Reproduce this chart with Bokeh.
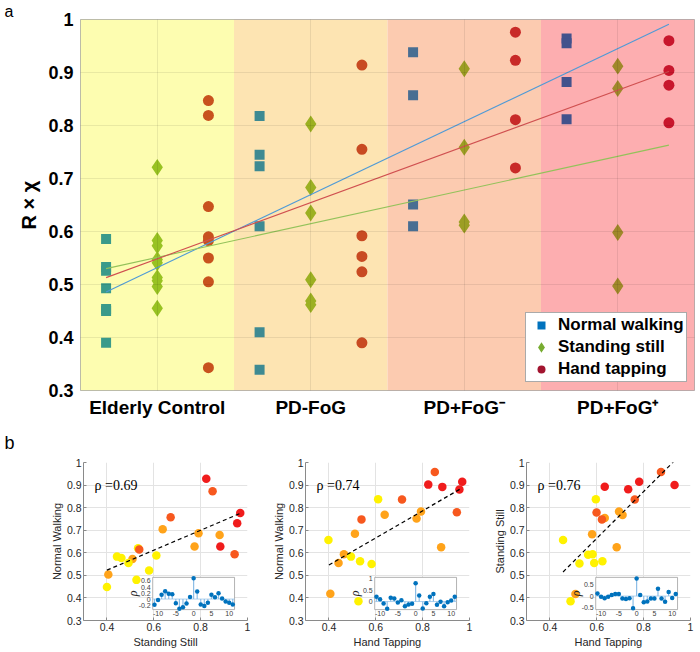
import math
from bokeh.plotting import figure
from bokeh.models import Range1d, FixedTicker, Legend, LegendItem, Title
from bokeh.layouts import column, row
from bokeh.embed import file_html
from bokeh.resources import INLINE
from bokeh.core.properties import value

# ---------------- panel a data ----------------
group_names = ["Elderly Control", "PD-FoG", "PD+FoG\u207b", "PD+FoG\u207a"]
task_names = ["Normal walking", "Standing still", "Hand tapping"]

normal_walking = [
    [0.586, 0.533, 0.526, 0.493, 0.454, 0.450, 0.390],
    [0.818, 0.745, 0.723, 0.610, 0.410, 0.339],
    [0.938, 0.857, 0.651, 0.610],
    [0.964, 0.955, 0.882, 0.812],
]
standing_still = [
    [0.721, 0.583, 0.573, 0.547, 0.541, 0.513, 0.507, 0.496, 0.455],
    [0.803, 0.683, 0.635, 0.509, 0.469, 0.462],
    [0.907, 0.759, 0.618, 0.612],
    [0.912, 0.870, 0.598, 0.497],
]
hand_tapping = [
    [0.847, 0.819, 0.647, 0.590, 0.583, 0.550, 0.505, 0.343],
    [0.914, 0.755, 0.592, 0.553, 0.524, 0.390],
    [0.976, 0.923, 0.811, 0.720],
    [0.960, 0.904, 0.876, 0.805],
]
fit_x = [1, 12]
fit_normal_walking = [0.486, 0.991]
fit_standing_still = [0.530, 0.763]
fit_hand_tapping = [0.513, 0.902]
a_y_ticks = [0.3, 0.4, 0.5, 0.6, 0.7, 0.8, 0.9, 1.0]

# ---------------- panel b data ----------------
b_x_ticks = [0.4, 0.6, 0.8, 1.0]
b_y_ticks = [0.3, 0.4, 0.5, 0.6, 0.7, 0.8, 0.9, 1.0]

# subplot 1: Standing Still (x) vs Normal Walking (y)
b1_x = [0.824, 0.851, 0.969, 0.956, 0.672, 0.638, 0.791, 0.774, 0.881, 0.884, 0.945,
        0.533, 0.538, 0.509, 0.492, 0.443, 0.462, 0.611, 0.580, 0.526, 0.406, 0.400]
b1_y = [0.928, 0.873, 0.776, 0.731, 0.757, 0.704, 0.687, 0.628, 0.679, 0.628, 0.593,
        0.620, 0.615, 0.572, 0.555, 0.583, 0.577, 0.588, 0.521, 0.480, 0.504, 0.448]
b1_g = [3, 2, 3, 3, 2, 1, 1, 1, 1, 3, 2, 0, 2, 1, 0, 0, 0, 0, 0, 0, 1, 0]
b1_fit_x = [0.40, 0.97]
b1_fit_y = [0.523, 0.775]

# subplot 2: Hand Tapping (x) vs Normal Walking (y)
b2_x = [0.852, 0.824, 0.884, 0.969, 0.957, 0.946, 0.712, 0.610, 0.638, 0.793, 0.774,
        0.539, 0.511, 0.398, 0.879, 0.464, 0.441, 0.494, 0.533, 0.582, 0.406, 0.526]
b2_y = [0.958, 0.902, 0.892, 0.915, 0.880, 0.780, 0.836, 0.837, 0.769, 0.783, 0.752,
        0.748, 0.684, 0.657, 0.624, 0.593, 0.555, 0.583, 0.562, 0.550, 0.419, 0.385]
b2_g = [2, 3, 3, 3, 3, 2, 2, 0, 1, 1, 1, 2, 1, 0, 1, 1, 1, 0, 0, 0, 1, 0]
b2_fit_x = [0.40, 0.963]
b2_fit_y = [0.546, 0.884]

# subplot 3: Hand Tapping (x) vs Standing Still (y)
b3_x = [0.874, 0.781, 0.932, 0.634, 0.734, 0.762, 0.596, 0.695, 0.710, 0.599, 0.634,
        0.622, 0.580, 0.456, 0.685, 0.563, 0.582, 0.526, 0.589, 0.624, 0.509, 0.488]
b3_y = [0.958, 0.915, 0.900, 0.893, 0.881, 0.836, 0.837, 0.783, 0.767, 0.779, 0.754,
        0.748, 0.682, 0.657, 0.624, 0.591, 0.594, 0.553, 0.555, 0.562, 0.417, 0.385]
b3_g = [2, 3, 3, 3, 3, 2, 0, 1, 1, 2, 1, 2, 1, 0, 1, 0, 0, 0, 0, 0, 1, 0]
b3_fit_x = [0.456, 0.933]
b3_fit_y = [0.515, 1.009]

rho_values = [0.69, 0.74, 0.76]

# insets: cross-correlation vs lag
lags = list(range(-11, 12))
acf1 = [-0.19, -0.03, 0.14, 0.26, 0.18, 0.16, -0.14, -0.32, -0.27, -0.15, 0.07, 0.69,
        0.25, -0.18, -0.23, -0.12, 0.14, 0.06, 0.19, 0.02, -0.08, -0.12, -0.18]
acf2 = [0.21, 0.10, -0.09, -0.31, 0.16, 0.13, -0.04, 0.06, -0.20, -0.13, -0.10, 0.79,
        0.26, -0.30, -0.07, 0.21, 0.33, -0.14, -0.01, -0.20, -0.03, 0.04, 0.21]
acf3 = [0.11, -0.03, -0.09, -0.03, 0.04, 0.09, 0.09, -0.11, -0.13, -0.09, -0.52, 0.75,
        0.05, -0.27, -0.23, -0.11, -0.11, 0.31, -0.11, -0.24, 0.17, -0.08, 0.09]
lag_ticks = [-10, -5, 0, 5, 10]
lag_lim = [-11.5, 11.5]
acf_ticks = [[-0.2, 0, 0.2, 0.4, 0.6], [0, 0.5, 1], [-0.5, 0, 0.5]]
acf_lims = [[-0.35, 0.72], [-0.35, 1.05], [-0.58, 0.8]]

# ---------------- styles ----------------
FONT = "Liberation Sans"
band_colors = ["#fdfdb0", "#fde4b2", "#fccbb0", "#fdaeb0"]
task_group_colors = [
    ["#3a9a8a", "#3e8a92", "#486e92", "#42528c"],
    ["#98c222", "#9cb022", "#9c9e24", "#a0882a"],
    ["#c8521e", "#c84a22", "#c82a28", "#c8162c"],
]
legend_colors = ["#0072BD", "#77AC30", "#A2142F"]
fit_colors = ["#4f9ad6", "#93c25a", "#d05050"]
task_markers = ["square", "diamond", "circle"]
task_sizes = [10, 13, 11]
task_line_widths = [0, 2.2, 0]
grp_colors = ["#fff200", "#ffa31a", "#f7581e", "#f01c1c"]

# ---------------- panel a ----------------
n_tasks = len(task_names)
n_groups = len(group_names)
pa = figure(width=698, height=420, x_range=Range1d(0.5, n_groups * n_tasks + 0.5),
            y_range=Range1d(a_y_ticks[0], a_y_ticks[-1]),
            output_backend="svg", toolbar_location=None,
            min_border_left=80, min_border_right=4, min_border_top=14, min_border_bottom=29)
pa.outline_line_color = "#a6a6a6"
pa.add_layout(Title(text="a", align="left", offset=-76, standoff=0,
                    text_font=FONT, text_font_size="16px", text_font_style="normal",
                    text_color="black"), "above")
pa.quad(left=[g * n_tasks + 0.5 for g in range(n_groups)],
        right=[(g + 1) * n_tasks + 0.5 for g in range(n_groups)],
        bottom=a_y_ticks[0], top=a_y_ticks[-1],
        fill_color=band_colors, line_color=None)

task_data = [normal_walking, standing_still, hand_tapping]
for t in range(n_tasks):
    xs, ys, cs = [], [], []
    for g in range(n_groups):
        for v in task_data[t][g]:
            xs.append(g * n_tasks + t + 1)
            ys.append(v)
            cs.append(task_group_colors[t][g])
    if task_line_widths[t] > 0:
        pa.scatter(xs, ys, marker=task_markers[t], size=task_sizes[t],
                   fill_color=cs, line_color=cs, line_width=task_line_widths[t],
                   line_join="miter")
    else:
        pa.scatter(xs, ys, marker=task_markers[t], size=task_sizes[t],
                   fill_color=cs, line_color=None)

for fy, fc in zip([fit_normal_walking, fit_standing_still, fit_hand_tapping], fit_colors):
    pa.line(fit_x, fy, line_color=fc, line_width=1.1)

nan = float("nan")
leg_items = []
for t in range(n_tasks):
    r = pa.scatter([nan], [nan], marker=task_markers[t], size=9,
                   fill_color=legend_colors[t], line_color=legend_colors[t],
                   line_width=task_line_widths[t] * 0.6, line_join="miter")
    leg_items.append(LegendItem(label=task_names[t], renderers=[r]))
legend = Legend(items=leg_items, location=(445, 8))
legend.label_text_font = FONT
legend.label_text_font_size = "17px"
legend.label_text_font_style = "bold"
legend.label_text_color = "black"
legend.glyph_width = 26
legend.glyph_height = 20
legend.label_height = 20
legend.label_standoff = 4
legend.spacing = 2
legend.padding = 2
legend.margin = 0
legend.border_line_color = "#555555"
legend.border_line_width = 1
legend.background_fill_alpha = 1.0
pa.add_layout(legend)

pa.xaxis.ticker = FixedTicker(ticks=[g * n_tasks + 2 for g in range(n_groups)])
pa.xaxis.major_label_overrides = {g * n_tasks + 2: group_names[g] for g in range(n_groups)}
pa.yaxis.ticker = FixedTicker(ticks=a_y_ticks)
pa.yaxis.major_label_overrides = {1.0: "1"}
for ax in (pa.xaxis[0], pa.yaxis[0]):
    ax.major_label_text_font = FONT
    ax.major_label_text_font_style = "bold"
    ax.major_label_text_color = "black"
    ax.major_tick_line_color = None
    ax.major_tick_out = 0
    ax.major_tick_in = 0
    ax.minor_tick_line_color = None
    ax.minor_tick_out = 0
    ax.axis_line_color = None
pa.xaxis.major_label_text_font_size = "19px"
pa.xaxis.major_label_standoff = 6
pa.yaxis.major_label_text_font_size = "18px"
pa.yaxis.major_label_standoff = 7
pa.yaxis.axis_label = "R \u00d7 \u03c7"
pa.yaxis.axis_label_text_font = FONT
pa.yaxis.axis_label_text_font_size = "20px"
pa.yaxis.axis_label_text_font_style = "bold"
pa.yaxis.axis_label_text_color = "black"
pa.yaxis.axis_label_standoff = 5
pa.grid.grid_line_color = "black"
pa.grid.grid_line_alpha = 0.08
pa.grid.level = "guide"


# ---------------- panel b ----------------
def inset_range(lo, hi, f0, f1):
    span = (hi - lo) / (f1 - f0)
    start = lo - f0 * span
    return Range1d(start, start + span)


def fmt(v):
    return ("%g" % v)


def make_b(i, xs, ys, gs, xlabel, ylabel, fx, fy, acf, width, left, right):
    p = figure(width=width, height=230, x_range=Range1d(0.3, 1.0),
               y_range=Range1d(b_y_ticks[0], b_y_ticks[-1]),
               output_backend="svg", toolbar_location=None,
               min_border_left=left, min_border_right=right,
               min_border_top=42, min_border_bottom=29)
    p.outline_line_color = None
    p.xaxis.ticker = FixedTicker(ticks=b_x_ticks)
    p.yaxis.ticker = FixedTicker(ticks=b_y_ticks)
    p.xaxis.major_label_overrides = {1.0: "1"}
    p.yaxis.major_label_overrides = {1.0: "1"}
    p.xaxis.axis_label = xlabel
    p.yaxis.axis_label = ylabel
    for ax in (p.xaxis[0], p.yaxis[0]):
        ax.major_label_text_font = FONT
        ax.major_label_text_font_size = "10.5px"
        ax.major_label_text_color = "#262626"
        ax.axis_label_text_font = FONT
        ax.axis_label_text_font_size = "11px"
        ax.axis_label_text_font_style = "normal"
        ax.axis_label_text_color = "#262626"
        ax.axis_line_color = "#8a8a8a"
        ax.major_tick_line_color = "#8a8a8a"
        ax.major_tick_in = 3
        ax.major_tick_out = 0
        ax.minor_tick_line_color = None
        ax.minor_tick_out = 0
        ax.major_label_standoff = 2
        ax.axis_label_standoff = 1
    p.xaxis.axis_label_standoff = 2
    p.grid.grid_line_color = "#e3e3e3"

    p.scatter(xs, ys, size=8.5, fill_color=[grp_colors[g] for g in gs], line_color=None)
    p.line(fx, fy, line_color="black", line_dash="4 3", line_width=1.2)
    p.text(x=[0.347], y=[0.899], text=["\u03c1 =%.2f" % rho_values[i]],
           text_font=value("Liberation Serif"), text_font_size="14px",
           text_baseline="middle", text_align="left", text_color="black")

    lo, hi = acf_lims[i]
    p.extra_x_ranges = {"lag": inset_range(lag_lim[0], lag_lim[1], 0.422, 0.921)}
    p.extra_y_ranges = {"acf": inset_range(lo, hi, 0.069, 0.273)}
    kw = dict(x_range_name="lag", y_range_name="acf")
    p.quad(left=lag_lim[0], right=lag_lim[1], bottom=lo, top=hi,
           fill_color="white", line_color="#a0a0a0", line_width=0.8, **kw)
    p.line(lag_lim, [0, 0], line_color="#9cc5e8", line_width=0.8, **kw)
    p.segment(x0=lags, y0=[0] * len(lags), x1=lags, y1=acf,
              line_color="#8cbde6", line_width=1.2, **kw)
    p.scatter(lags, acf, size=4.5, fill_color="#0072BD", line_color=None, **kw)
    p.text(x=lag_ticks, y=[lo] * len(lag_ticks), text=[fmt(v) for v in lag_ticks],
           text_font=value(FONT), text_font_size="7px", text_color="#404040",
           text_align="center", text_baseline="top", y_offset=1, **kw)
    tk = acf_ticks[i]
    p.text(x=[lag_lim[0]] * len(tk), y=tk, text=[fmt(v) for v in tk],
           text_font=value(FONT), text_font_size="7px", text_color="#404040",
           text_align="right", text_baseline="middle", x_offset=-2, **kw)
    p.text(x=[lag_lim[0]], y=[(lo + hi) / 2], text=["\u03c1"], angle=math.pi / 2,
           x_offset=-20, text_font=value("Liberation Serif"), text_font_size="12px",
           text_font_style="italic", text_color="#262626",
           text_align="center", text_baseline="middle", **kw)
    return p


b1 = make_b(0, b1_x, b1_y, b1_g, "Standing Still", "Normal Walking", b1_fit_x, b1_fit_y,
            acf1, 263, 83, 16)
b2 = make_b(1, b2_x, b2_y, b2_g, "Hand Tapping", "Normal Walking", b2_fit_x, b2_fit_y,
            acf2, 221, 42, 15)
b3 = make_b(2, b3_x, b3_y, b3_g, "Hand Tapping", "Standing Still", b3_fit_x, b3_fit_y,
            acf3, 214, 42, 8)
b1.add_layout(Title(text="b", align="left", offset=-79, standoff=20,
                    text_font=FONT, text_font_size="18px", text_font_style="normal",
                    text_color="black"), "above")

layout = column(pa, row(b1, b2, b3, spacing=0), spacing=0)
open("out.html", "w").write(file_html(layout, INLINE, "chart"))
